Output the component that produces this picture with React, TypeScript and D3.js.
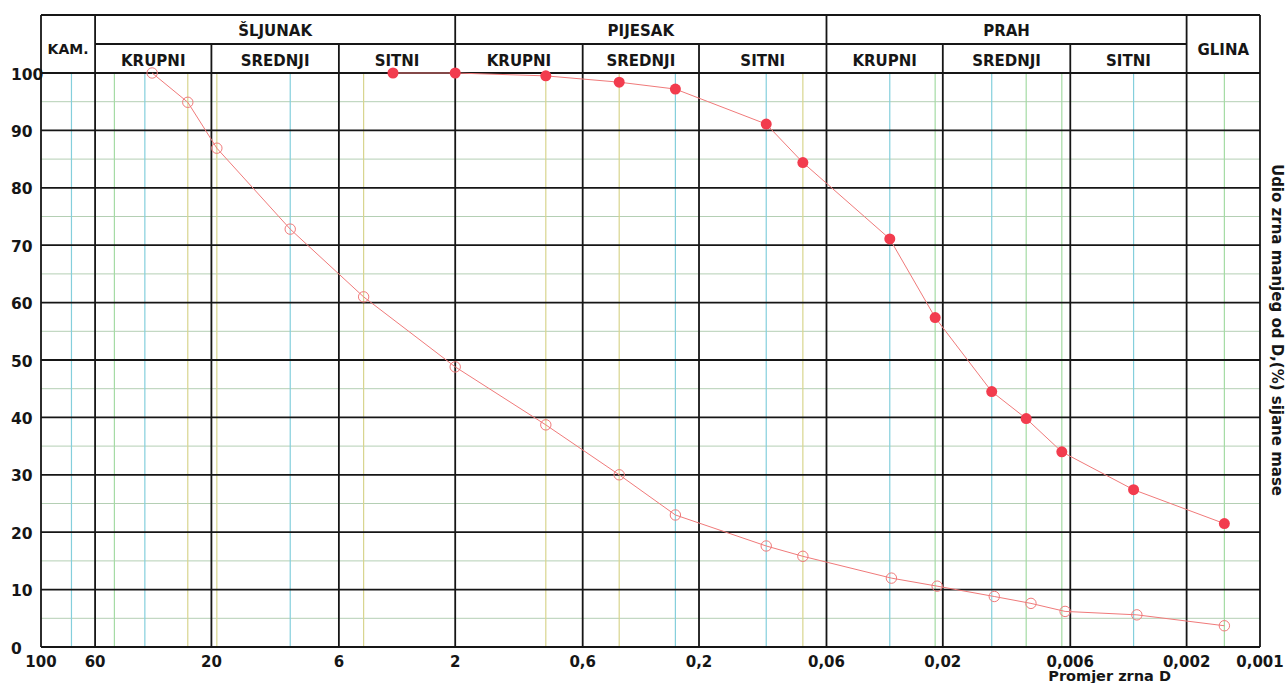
import React from "react";
import * as d3 from "d3";

// ---- data ----
const DIAM_TICKS = [100, 60, 20, 6, 2, 0.6, 0.2, 0.06, 0.02, 0.006, 0.002, 0.001];
const MAJOR_V = [60, 20, 6, 2, 0.6, 0.2, 0.06, 0.02, 0.006, 0.002];
const PCT_TICKS = [0, 10, 20, 30, 40, 50, 60, 70, 80, 90, 100];
const PCT_MINOR = [5, 15, 25, 35, 45, 55, 65, 75, 85, 95];

const SIEVE_D = [75, 50, 37.5, 25, 19, 9.5, 4.75, 0.85, 0.425, 0.25, 0.106, 0.075, 0.033, 0.0215, 0.0126, 0.0091, 0.0065, 0.0033, 0.0014];
const SIEVE_TONE = ["c", "g", "c", "y", "y", "c", "y", "y", "y", "c", "c", "y", "c", "g", "c", "g", "g", "c", "g"];

const SAMPLE_A_D = [3.6, 2, 0.85, 0.425, 0.25, 0.106, 0.075, 0.033, 0.0215, 0.0126, 0.0091, 0.0065, 0.0033, 0.0014];
const SAMPLE_A_P = [100, 100, 99.5, 98.4, 97.2, 91.1, 84.4, 71.1, 57.4, 44.5, 39.8, 34.0, 27.4, 21.5];

const SAMPLE_B_D = [35, 25, 19, 9.5, 4.75, 2, 0.85, 0.425, 0.25, 0.106, 0.075, 0.0325, 0.0211, 0.0123, 0.0087, 0.0063, 0.0032, 0.0014];
const SAMPLE_B_P = [100, 94.9, 86.9, 72.8, 61.0, 48.8, 38.7, 30.0, 23.0, 17.6, 15.8, 12.0, 10.6, 8.8, 7.6, 6.2, 5.6, 3.7];

const GROUP_LABELS = ["KAM.", "ŠLJUNAK", "PIJESAK", "PRAH", "GLINA"];
const GROUP_FROM = [100, 60, 2, 0.06, 0.002];
const GROUP_TO = [60, 2, 0.06, 0.002, 0.001];
const SUB_LABELS = ["KRUPNI", "SREDNJI", "SITNI", "KRUPNI", "SREDNJI", "SITNI", "KRUPNI", "SREDNJI", "SITNI"];
const SUB_FROM = [60, 20, 6, 2, 0.6, 0.2, 0.06, 0.02, 0.006];
const SUB_TO = [20, 6, 2, 0.6, 0.2, 0.06, 0.02, 0.006, 0.002];

const X_TITLE = "Promjer zrna D";
const Y_TITLE = "Udio zrna manjeg od D,(%) sijane mase";

// ---- layout ----
const W = 1288;
const H = 683;
const LEFT = 41;
const RIGHT = 1260;
const TOP = 73;
const BOTTOM = 647;
const HEAD_TOP = 15;
const HEAD_MID = 44;

const TONES: Record<string, string> = { c: "#84cfdc", g: "#a4dba4", y: "#d8d58e" };
const INK = "#161616";
const LINE_RED = "#f07a7a";
const DOT_RED = "#f23c4e";
const FONT = "'DejaVu Sans', Verdana, sans-serif";

export default function App() {
  const x = d3.scaleLog().domain([100, 0.001]).range([LEFT, RIGHT]);
  const y = d3.scaleLinear().domain([0, 100]).range([BOTTOM, TOP]);
  const fmt = (d: number) => String(d).replace(".", ",");

  const line = d3
    .line<[number, number]>()
    .x((p) => x(p[0]))
    .y((p) => y(p[1]));

  const ptsA: [number, number][] = SAMPLE_A_D.map((d, i) => [d, SAMPLE_A_P[i]]);
  const ptsB: [number, number][] = SAMPLE_B_D.map((d, i) => [d, SAMPLE_B_P[i]]);

  return (
    <svg
      width={W}
      height={H}
      viewBox={`0 0 ${W} ${H}`}
      style={{ position: "absolute", left: 0, top: 0, background: "#fff" }}
      fontFamily={FONT}
    >
      <rect x={0} y={0} width={W} height={H} fill="#fff" />

      {/* minor horizontal lines */}
      {PCT_MINOR.map((p) => (
        <line key={"mh" + p} x1={LEFT} x2={RIGHT} y1={y(p)} y2={y(p)} stroke="#b4cfb4" strokeWidth={1} />
      ))}

      {/* coloured sieve lines */}
      {SIEVE_D.map((d, i) => (
        <line key={"sv" + i} x1={x(d)} x2={x(d)} y1={TOP} y2={BOTTOM} stroke={TONES[SIEVE_TONE[i]]} strokeWidth={1.2} />
      ))}

      {/* major horizontal lines */}
      {PCT_TICKS.map((p) => (
        <line key={"h" + p} x1={LEFT} x2={RIGHT} y1={y(p)} y2={y(p)} stroke={INK} strokeWidth={1.8} />
      ))}

      {/* major vertical lines */}
      {MAJOR_V.map((d) => (
        <line key={"v" + d} x1={x(d)} x2={x(d)} y1={d === 60 || d === 0.002 || d === 2 || d === 0.06 ? HEAD_TOP : HEAD_MID} y2={BOTTOM} stroke={INK} strokeWidth={1.8} />
      ))}

      {/* borders */}
      <line x1={LEFT} x2={LEFT} y1={HEAD_TOP} y2={BOTTOM} stroke={INK} strokeWidth={1.8} />
      <line x1={RIGHT} x2={RIGHT} y1={HEAD_TOP} y2={BOTTOM} stroke={INK} strokeWidth={1.8} />
      <line x1={LEFT} x2={RIGHT} y1={HEAD_TOP} y2={HEAD_TOP} stroke={INK} strokeWidth={1.8} />
      <line x1={x(60)} x2={x(0.002)} y1={HEAD_MID} y2={HEAD_MID} stroke={INK} strokeWidth={1.8} />

      {/* header labels */}
      {GROUP_LABELS.map((t, i) => {
        const single = i === 0 || i === GROUP_LABELS.length - 1;
        const cx = (x(GROUP_FROM[i]) + x(GROUP_TO[i])) / 2;
        const cy = single ? (HEAD_TOP + TOP) / 2 + 6 : (HEAD_TOP + HEAD_MID) / 2 + 2;
        return (
          <text key={"g" + i} x={cx} y={cy} textAnchor="middle" dominantBaseline="middle" fontSize={i === 0 ? 14 : 15} fontWeight="bold" fill={INK}>
            {t}
          </text>
        );
      })}
      {SUB_LABELS.map((t, i) => (
        <text
          key={"s" + i}
          x={(x(SUB_FROM[i]) + x(SUB_TO[i])) / 2}
          y={(HEAD_MID + TOP) / 2 + 3}
          textAnchor="middle"
          dominantBaseline="middle"
          fontSize={15}
          fontWeight="bold"
          fill={INK}
        >
          {t}
        </text>
      ))}

      {/* y tick labels */}
      {PCT_TICKS.map((p) => (
        <text key={"yl" + p} x={11} y={y(p) + 2} dominantBaseline="middle" fontSize={15.5} fontWeight="bold" fill={INK}>
          {p}
        </text>
      ))}

      {/* x tick labels */}
      {DIAM_TICKS.map((d) => (
        <text key={"xl" + d} x={x(d)} y={667} textAnchor="middle" fontSize={15} fontWeight="bold" fill={INK}>
          {fmt(d)}
        </text>
      ))}

      <text x={x(0.006) - 22} y={681} fontSize={14.5} fontWeight="bold" fill={INK}>
        {X_TITLE}
      </text>

      <text
        transform={`translate(1272, ${(TOP + BOTTOM) / 2 - 30}) rotate(90)`}
        textAnchor="middle"
        fontSize={15}
        fontWeight="bold"
        fill={INK}
      >
        {Y_TITLE}
      </text>

      {/* series */}
      <path d={line(ptsB) || ""} fill="none" stroke={LINE_RED} strokeWidth={1} />
      <path d={line(ptsA) || ""} fill="none" stroke={LINE_RED} strokeWidth={1} />
      {ptsB.map((p, i) => (
        <circle key={"b" + i} cx={x(p[0])} cy={y(p[1])} r={5.2} fill="none" stroke={LINE_RED} strokeWidth={1} />
      ))}
      {ptsA.map((p, i) => (
        <circle key={"a" + i} cx={x(p[0])} cy={y(p[1])} r={5.5} fill={DOT_RED} />
      ))}
    </svg>
  );
}
